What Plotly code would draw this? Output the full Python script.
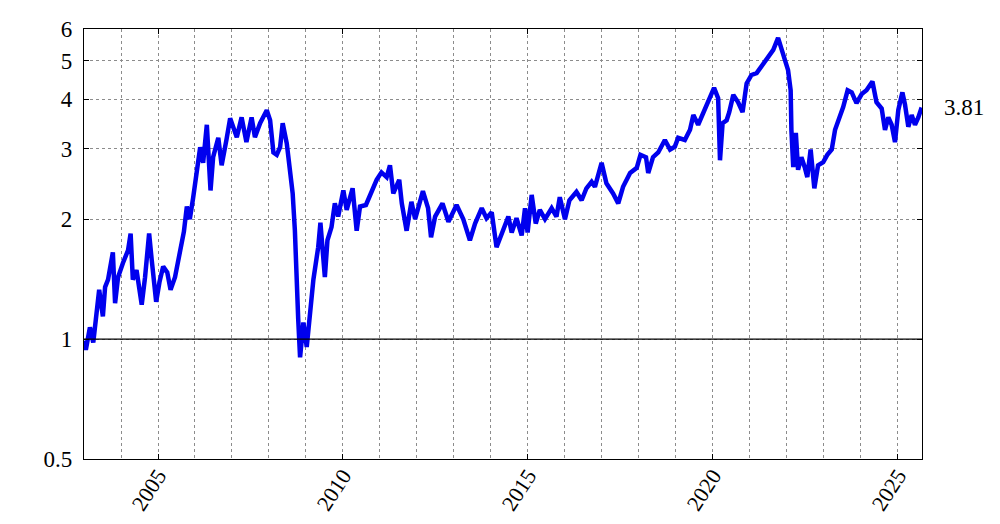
import math

import plotly.graph_objects as go

# --- Data ---
years = [
    2003.00, 2003.05, 2003.16, 2003.25, 2003.32, 2003.41, 2003.51, 2003.57, 2003.65, 2003.78,
    2003.84, 2003.92, 2004.05, 2004.19, 2004.26, 2004.32, 2004.42, 2004.56, 2004.65, 2004.76,
    2004.83, 2004.95, 2005.04, 2005.14, 2005.25, 2005.34, 2005.46, 2005.59, 2005.70, 2005.78,
    2005.86, 2005.95, 2006.05, 2006.14, 2006.22, 2006.32, 2006.42, 2006.49, 2006.63, 2006.72,
    2006.85, 2006.95, 2007.13, 2007.26, 2007.39, 2007.49, 2007.53, 2007.62, 2007.76, 2007.94,
    2008.03, 2008.12, 2008.21, 2008.30, 2008.37, 2008.48, 2008.57, 2008.64, 2008.70, 2008.73,
    2008.79, 2008.84, 2008.93, 2009.02, 2009.11, 2009.20, 2009.33, 2009.39, 2009.51, 2009.58,
    2009.69, 2009.78, 2009.87, 2010.01, 2010.10, 2010.26, 2010.37, 2010.46, 2010.62, 2010.77,
    2010.91, 2011.04, 2011.18, 2011.27, 2011.36, 2011.52, 2011.59, 2011.72, 2011.85, 2011.95,
    2012.16, 2012.30, 2012.38, 2012.49, 2012.69, 2012.85, 2013.07, 2013.25, 2013.43, 2013.57,
    2013.75, 2013.88, 2014.02, 2014.15, 2014.29, 2014.47, 2014.56, 2014.69, 2014.83, 2014.92,
    2014.99, 2015.10, 2015.21, 2015.32, 2015.46, 2015.64, 2015.77, 2015.86, 2016.00, 2016.12,
    2016.31, 2016.45, 2016.58, 2016.72, 2016.81, 2016.99, 2017.12, 2017.30, 2017.44, 2017.57,
    2017.76, 2017.94, 2018.04, 2018.19, 2018.25, 2018.38, 2018.52, 2018.70, 2018.84, 2018.97,
    2019.06, 2019.24, 2019.38, 2019.47, 2019.60, 2019.74, 2019.87, 2020.03, 2020.14, 2020.19,
    2020.26, 2020.37, 2020.44, 2020.55, 2020.68, 2020.80, 2020.91, 2021.04, 2021.18, 2021.31,
    2021.49, 2021.63, 2021.76, 2021.85, 2021.95, 2022.03, 2022.10, 2022.12, 2022.17, 2022.24,
    2022.30, 2022.39, 2022.48, 2022.55, 2022.64, 2022.74, 2022.84, 2022.98, 2023.09, 2023.21,
    2023.30, 2023.43, 2023.52, 2023.64, 2023.75, 2023.88, 2024.02, 2024.15, 2024.31, 2024.42,
    2024.56, 2024.65, 2024.74, 2024.83, 2024.92, 2025.01, 2025.12, 2025.19, 2025.28, 2025.37,
    2025.46, 2025.55, 2025.64,
]
values = [
    0.99, 0.94, 1.07, 0.98, 1.12, 1.33, 1.14, 1.35, 1.41, 1.65,
    1.23, 1.43, 1.55, 1.67, 1.84, 1.41, 1.49, 1.22, 1.43, 1.84,
    1.58, 1.24, 1.39, 1.52, 1.47, 1.33, 1.43, 1.67, 1.86, 2.15,
    2.00, 2.26, 2.66, 3.03, 2.77, 3.45, 2.36, 2.86, 3.20, 2.73,
    3.16, 3.58, 3.21, 3.60, 3.12, 3.48, 3.60, 3.21, 3.48, 3.75,
    3.54, 2.94, 2.90, 3.03, 3.48, 3.10, 2.66, 2.32, 1.87, 1.52,
    1.12, 0.90, 1.10, 0.955, 1.18, 1.41, 1.70, 1.96, 1.43, 1.77,
    1.91, 2.19, 2.03, 2.36, 2.11, 2.39, 1.87, 2.15, 2.17, 2.36,
    2.51, 2.62, 2.55, 2.73, 2.32, 2.51, 2.19, 1.87, 2.21, 2.00,
    2.35, 2.13, 1.80, 2.03, 2.19, 1.97, 2.17, 2.00, 1.77, 1.95,
    2.13, 2.01, 2.08, 1.70, 1.85, 2.03, 1.85, 2.01, 1.82, 2.13,
    1.85, 2.30, 1.95, 2.11, 2.00, 2.13, 2.03, 2.27, 2.00, 2.23,
    2.34, 2.23, 2.39, 2.48, 2.41, 2.77, 2.46, 2.32, 2.19, 2.41,
    2.61, 2.69, 2.90, 2.86, 2.61, 2.86, 2.94, 3.16, 2.99, 3.04,
    3.20, 3.16, 3.35, 3.65, 3.45, 3.71, 3.98, 4.27, 4.02, 2.81,
    3.48, 3.54, 3.71, 4.10, 3.93, 3.71, 4.38, 4.60, 4.65, 4.82,
    5.10, 5.32, 5.70, 5.32, 5.01, 4.73, 4.21, 3.35, 2.70, 3.29,
    2.66, 2.86, 2.70, 2.55, 2.99, 2.39, 2.73, 2.78, 2.90, 2.99,
    3.35, 3.60, 3.82, 4.21, 4.16, 3.91, 4.12, 4.21, 4.43, 3.93,
    3.79, 3.35, 3.60, 3.45, 3.12, 3.76, 4.16, 3.88, 3.41, 3.65,
    3.45, 3.60, 3.81,
]
y_ticks = [0.5, 1, 2, 3, 4, 5, 6]
x_ticks = [2005, 2010, 2015, 2020, 2025]
last_label = "3.81"

FONT = "Liberation Serif"
GRID = "#8c8c8c"

fig = go.Figure()

fig.add_trace(
    go.Scatter(
        x=years,
        y=values,
        mode="lines",
        line=dict(color="#0000ee", width=4.5),
        showlegend=False,
    )
)

# solid reference line at 1
fig.add_hline(y=1, line=dict(color="black", width=1.3))

fig.add_annotation(
    xref="paper", x=1.0,
    yref="y", y=math.log10(values[-1]),  # log axis -> log10 units
    text=last_label,
    showarrow=False,
    xanchor="left",
    xshift=20,
    font=dict(family=FONT, size=23, color="black"),
)

# --- Formatting ---
fig.update_xaxes(
    range=[2003, 2025.65],
    tickvals=x_ticks,
    ticktext=[str(v) for v in x_ticks],
    tickangle=-57,
    ticks="inside",
    ticklen=5,
    tickcolor="black",
    showline=True,
    linecolor="black",
    linewidth=1.2,
    mirror="ticks",
    showgrid=True,
    gridcolor=GRID,
    griddash="dot",
    gridwidth=1,
    minor=dict(dtick=1, showgrid=True, gridcolor=GRID, griddash="dot", gridwidth=1),
    zeroline=False,
    automargin=False,
    ticklabelstandoff=-6,
    tickfont=dict(family=FONT, size=22, color="black"),
)

fig.update_yaxes(
    type="log",
    range=[math.log10(0.5), math.log10(6)],
    tickvals=y_ticks,
    ticktext=[str(v) for v in y_ticks],
    ticks="inside",
    ticklen=5,
    tickcolor="black",
    showline=True,
    linecolor="black",
    linewidth=1.2,
    mirror="ticks",
    showgrid=True,
    gridcolor=GRID,
    griddash="dot",
    gridwidth=1,
    zeroline=False,
    automargin=False,
    ticklabelstandoff=6,
    tickfont=dict(family=FONT, size=23, color="black"),
)

# page body keeps its default 8px margin, so the figure is 16px smaller
fig.update_layout(
    width=984,
    height=508,
    plot_bgcolor="white",
    paper_bgcolor="white",
    margin=dict(l=76, r=70, t=21, b=57),
)

fig.write_html("out.html")
